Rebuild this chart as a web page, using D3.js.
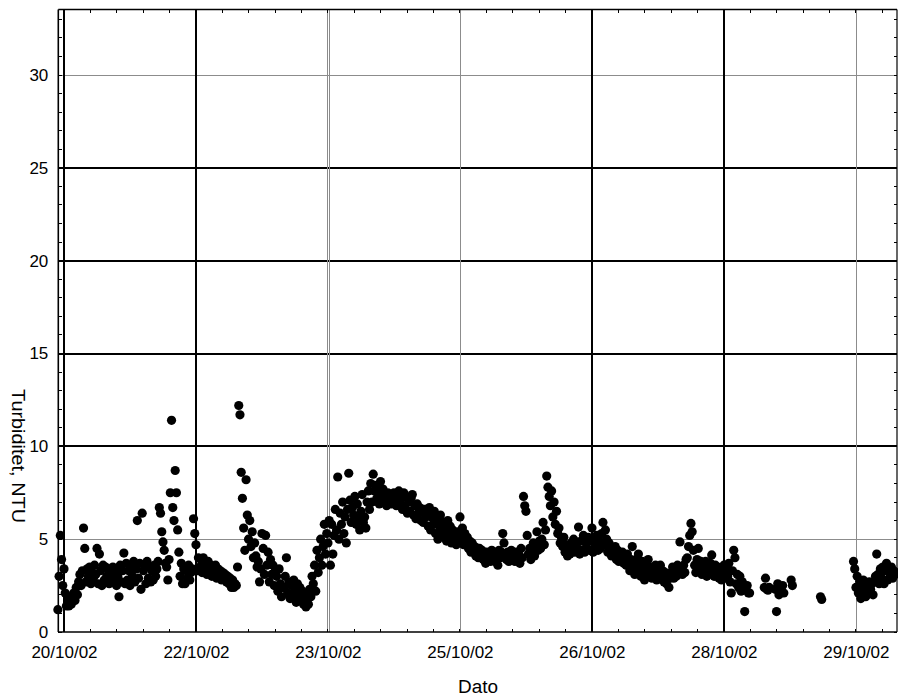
<!DOCTYPE html>
<html><head><meta charset="utf-8">
<script src="https://cdn.jsdelivr.net/npm/d3@7/dist/d3.min.js"></script>
<style>
body{margin:0;background:#fff}
svg{display:block}
text{font-family:"Liberation Sans",Arial,Helvetica,sans-serif;fill:#000}
</style>
</head><body>
<svg id="chart" width="898" height="697"></svg>
<script>
// Turbidity readings (NTU), one value every 20 minutes; null = no reading
const day20 = [ // 20/10/02 from 10:20
  1.2,3.0, 5.2,3.9,2.5, 3.4,2.1,1.4, 1.7,1.4,1.9, 1.5,1.8,2.1, 1.7,2.4,2.0,
  2.7,3.1,2.5, 3.3,5.6,4.5, 2.7,3.4,3.0, 3.5,2.6,3.2, 2.9,3.6,3.1, 4.5,2.6,4.2,
  3.3,2.5,3.6, 2.8,3.5,3.0];
const day21 = [
  3.4,2.6,3.1, 2.7,3.5,2.9, 3.3,2.5,3.0, 1.9,3.6,2.7, 3.3,4.25,2.6, 3.7,2.8,3.3,
  2.5,3.6,3.0, 3.8,2.7,3.4, 6.0,2.9,3.7, 2.3,6.4,3.3, 3.6,2.6,3.8, 2.9,3.5,2.7,
  3.3,2.8,3.6, 3.0,3.4,3.8, 6.7,6.4,5.4, 4.85,4.4,3.7, 3.5,2.8,3.9, 7.5,11.4,6.7,
  6.0,8.7,7.5, 5.5,4.3,3.0, 3.7,2.6,3.4, 2.6,3.3,2.9, 3.6,2.8,3.2, 3.4,6.1,5.3];
const day22 = [
  4.7,3.3,4.0, 3.5,3.9,3.2, 4.0,3.4,3.7, 3.1,3.8,3.4, 3.6,3.0,3.5, 3.2,3.6,2.9,
  3.4,3.0,3.3, 2.8,3.2,3.0, 3.1,2.7,3.0, 2.6,2.9,2.4, 2.8,2.4,2.6, 2.5,3.5,12.2,
  11.7,8.6,7.2, 5.6,4.4,8.2, 6.3,5.0,6.0, 4.6,5.4,4.0, 4.8,4.1,3.5, 3.8,2.7,3.4,
  5.3,4.5,3.1, 5.2,3.6,4.3, 2.7,3.9,3.1, 3.6,2.5,3.3, 3.0,2.2,3.4, 2.6,1.9,2.4];
const day23 = [
  2.4,3.0,4.0, 2.1,2.7,1.8, 2.5,1.9,2.8, 2.2,1.6,2.6, 1.9,2.4,1.7, 2.2,1.5,2.0,
  1.35,1.8,1.5, 2.3,1.9,3.0, 2.6,3.6,2.2, 4.4,3.2,4.0, 5.0,3.6,4.6, 5.8,4.2,5.3,
  4.8,6.0,3.6, 5.8,4.2,5.2, 6.6,5.5,8.35, 5.0,6.4,5.8, 7.0,5.3,6.2, 4.8,6.6,8.55,
  7.1,5.9,6.7, 6.3,7.3,5.8, 6.9,6.1,5.5, 6.5,7.4,5.9, 6.2,5.6,7.0, 7.6,6.6,8.0];
const day24 = [
  7.0,8.5,7.6, 7.9,7.2,7.6, 6.9,8.1,7.4, 7.7,7.0,7.3, 6.8,7.5,7.1, 7.4,6.9,7.3,
  7.5,7.1,6.8, 7.3,7.6,6.9, 7.2,6.6,7.5, 6.8,7.3,6.4, 7.0,6.5,7.2, 7.4,6.3,6.8,
  6.1,6.9,6.4, 6.7,6.0,6.5, 5.9,6.6,6.2, 6.4,5.7,6.7, 5.5,6.2,5.8, 6.5,5.3,6.0,
  5.0,5.7,6.3, 5.4,5.9,5.1, 5.6,4.9,6.0, 5.2,5.7,4.8, 5.5,5.0,5.3, 4.7,5.4,5.0];
const day25 = [
  6.2,5.0,5.6, 4.7,5.3,4.9, 5.1,4.5,4.9, 4.3,4.8,4.5, 4.6,4.1,4.4, 4.0,4.5,4.2,
  4.4,3.9,4.2, 3.7,4.3,4.0, 4.2,3.8,4.4, 4.0,4.3,3.8, 4.1,3.6,4.4, 4.0,4.3,5.3,
  4.8,4.1,3.9, 4.3,3.8,4.1, 4.4,3.9,4.2, 3.8,4.3,4.0, 4.2,3.7,4.5, 4.0,7.3,6.8,
  6.5,5.2,4.2, 4.5,3.9,4.3, 4.8,4.1,4.6, 5.4,4.4,4.9, 4.5,5.0,5.9, 4.7,5.5,8.4];
const day26 = [
  7.8,7.3,6.8, 7.6,6.2,7.0, 5.8,6.5,5.3, 5.6,4.8,5.1, 4.6,5.1,4.3, 4.7,4.1,4.5,
  4.2,4.8,4.4, 5.0,4.3,4.7, 4.5,5.65,4.2, 4.9,4.4,5.2, 4.3,4.8,4.5, 5.1,4.4,4.9,
  5.6,4.3,5.0, 4.6,5.2,4.4, 4.9,4.5,5.3, 5.9,4.7,5.5, 5.0,4.3,4.8, 4.6,4.1,4.5,
  4.2,4.6,3.9, 4.4,3.8,4.1, 3.9,4.3,3.7, 4.0,3.6,4.2, 3.7,3.3,3.9, 4.6,3.5,3.1];
const day27 = [
  3.9,3.3,4.2, 3.6,3.0,3.8, 3.4,2.8,3.7, 3.2,3.9,3.0, 3.5,2.9,3.3, 3.1,3.6,2.8,
  3.4,3.0,3.6, 2.9,3.3,2.7, 3.2,2.6,3.0, 2.4,2.9,3.2, 3.5,2.9,3.3, 3.0,3.6,3.2,
  4.85,3.4,3.1, 3.6,3.2,3.9, 4.0,4.6,5.2, 5.85,5.4,4.4, 3.6,3.2,3.9, 4.5,3.4,3.8,
  3.1,3.6,3.3, 3.8,3.0,3.5, 3.2,3.7,4.15, 3.4,3.0,3.6, 3.1,3.5,2.9, 3.3,2.8,3.2];
const day28 = [
  3.6,2.9,3.4, 3.0,3.7,2.7, 2.1,3.3,4.4, 4.0,2.6,3.1, 2.4,3.0,2.2, 2.7,2.3,1.1,
  2.3,2.5,2.1, 2.1,null,null, null,null,null, null,null,null, null,null,null, 2.4,2.9,2.3,
  2.25,2.4,null, null,null,null, 2.3,1.1,2.6, 2.0,2.4,2.2, 2.5,2.1,null, null,null,null,
  null,2.8,2.5];
const day29 = [
  null,null,null, null,null,null, null,1.9,1.75, null,null,null, null,null,null, null,null,null,
  null,null,null, null,null,null, null,null,null, null,null,null, null,null,null, null,3.8,3.4,
  2.4,3.0,2.1, 2.7,1.8,2.3, 2.8,2.0,1.9, 2.5,2.2,2.7, 2.3,2.6,2.0, 2.7,3.0,4.2,
  3.1,2.6,3.4, 2.9,3.5,2.6, 3.3,3.7,2.8, 3.4,3.0,3.5, 2.9,3.3,3.1];

const dayStarts = ["2002-10-20 10:20","2002-10-21 00:00","2002-10-22 00:00","2002-10-23 00:00",
  "2002-10-24 00:00","2002-10-25 00:00","2002-10-26 00:00","2002-10-27 00:00",
  "2002-10-28 00:00","2002-10-29 00:00"];
const dayValues = [day20,day21,day22,day23,day24,day25,day26,day27,day28,day29];
const sampleMinutes = 20;

const xTickLabels = ["2002-10-20 12:00","2002-10-22 00:00","2002-10-23 12:00","2002-10-25 00:00",
  "2002-10-26 12:00","2002-10-28 00:00","2002-10-29 12:00"];
const yTickLabels = [0,5,10,15,20,25,30];
const xDomain = ["2002-10-20 10:27","2002-10-29 23:12"];
const yMax = 33.53;
const xTitle = "Dato";
const yTitle = "Turbiditet, NTU";

// ---------- drawing ----------
const parse = d3.timeParse("%Y-%m-%d %H:%M");
const fmt = d3.timeFormat("%d/%m/%y");
const L = 58.3, R = 897, T = 9.5, B = 632;
const svg = d3.select("#chart");

const x = d3.scaleTime().domain(xDomain.map(parse)).range([L, R]);
const y = d3.scaleLinear().domain([0, yMax]).range([B, T]);

const points = [];
dayValues.forEach((vals, di) => {
  const t0 = parse(dayStarts[di]);
  vals.forEach((v, i) => {
    if (v != null) points.push({t: d3.timeMinute.offset(t0, i * sampleMinutes), v});
  });
});

const majorX = xTickLabels.map(parse);
const step = majorX[1] - majorX[0];
const minorX = [];
for (let t = +majorX[0] - step; t <= +x.domain()[1]; t += step / 5) {
  if (t >= +x.domain()[0]) minorX.push(new Date(t));
}
const minorY = d3.range(0, Math.floor(yMax) + 1);

// gridlines
const g = svg.append("g").attr("shape-rendering", "crispEdges");
const hStyle = {5:["#8c8c8c",1],10:["#000",1.4],15:["#000",1.4],20:["#000",1.4],25:["#000",1.4],30:["#8c8c8c",1]};
yTickLabels.filter(v => v > 0).forEach(v => {
  const s = hStyle[v];
  const yy = Math.round(y(v)) + (s[1] < 1.2 ? 0.5 : 0);
  g.append("line").attr("x1", L).attr("x2", R).attr("y1", yy).attr("y2", yy)
    .attr("stroke", s[0]).attr("stroke-width", s[1]);
});
// colour, width, double-line gap
const vStyle = [["#000",2,0],["#000",2,0],["#8c8c8c",1,2],["#8c8c8c",1,0],["#000",2,0],["#000",2,0],["#8c8c8c",1,0]];
majorX.forEach((d, i) => {
  const s = vStyle[i];
  const base = Math.round(x(d)) + (s[1] === 1 ? 0.5 : 0);
  const offs = s[2] ? [-s[2]/2 - 0.5, s[2]/2 - 0.5] : [0];
  offs.forEach(o => {
    g.append("line").attr("x1", base + o).attr("x2", base + o).attr("y1", T).attr("y2", B)
      .attr("stroke", s[0]).attr("stroke-width", s[1]);
  });
});

// minor ticks (inward) on all four sides
const tk = svg.append("g").attr("stroke", "#000").attr("stroke-width", 1).attr("shape-rendering", "crispEdges");
minorY.forEach(v => {
  tk.append("line").attr("x1", L).attr("x2", L + 3.5).attr("y1", y(v)).attr("y2", y(v));
  tk.append("line").attr("x1", R - 3.5).attr("x2", R).attr("y1", y(v)).attr("y2", y(v));
});
minorX.forEach(d => {
  tk.append("line").attr("x1", x(d)).attr("x2", x(d)).attr("y1", B - 3.5).attr("y2", B);
  tk.append("line").attr("x1", x(d)).attr("x2", x(d)).attr("y1", T).attr("y2", T + 3.5);
});

// frame
svg.append("g").attr("stroke", "#000").attr("fill", "none").call(s => {
  s.append("line").attr("x1", L).attr("x2", L).attr("y1", T).attr("y2", B).attr("stroke-width", 1.6);
  s.append("line").attr("x1", L).attr("x2", R).attr("y1", T).attr("y2", T).attr("stroke-width", 1.6);
  s.append("line").attr("x1", L).attr("x2", R).attr("y1", B).attr("y2", B).attr("stroke-width", 1.6);
  s.append("line").attr("x1", R).attr("x2", R).attr("y1", T).attr("y2", B).attr("stroke-width", 1.2);
});

// axes labels via d3 axes
const xAxis = svg.append("g").attr("transform", `translate(0,${B})`)
  .call(d3.axisBottom(x).tickValues(majorX).tickFormat(fmt).tickSize(0).tickPadding(14));
const yAxis = svg.append("g").attr("transform", `translate(${L},0)`)
  .call(d3.axisLeft(y).tickValues(yTickLabels).tickFormat(d3.format("d")).tickSize(0).tickPadding(10));
[xAxis, yAxis].forEach(a => {
  a.select(".domain").remove();
  a.selectAll("text").attr("font-size", 17).attr("font-family", '"Liberation Sans",Arial,sans-serif').attr("fill", "#000");
});

// points
svg.append("g").selectAll("circle").data(points).join("circle")
  .attr("cx", d => x(d.t)).attr("cy", d => y(d.v)).attr("r", 4.6).attr("fill", "#000");

// titles
svg.append("text").attr("x", 478).attr("y", 693).attr("text-anchor", "middle")
  .attr("font-size", 18).attr("textLength", 40).attr("lengthAdjust", "spacingAndGlyphs").text(xTitle);
svg.append("text").attr("transform", "translate(12,456) rotate(90)").attr("text-anchor", "middle")
  .attr("font-size", 17.5).attr("textLength", 134).attr("lengthAdjust", "spacingAndGlyphs").text(yTitle);
</script>
</body></html>
